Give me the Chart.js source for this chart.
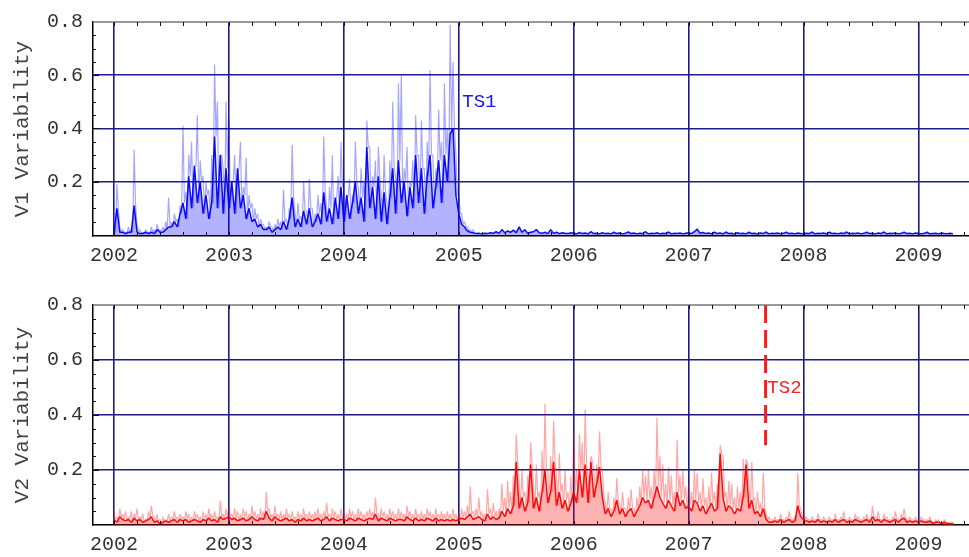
<!DOCTYPE html>
<html>
<head>
<meta charset="utf-8">
<script src="https://cdn.jsdelivr.net/npm/chart.js@4.4.0/dist/chart.umd.min.js"></script>
<style>
  html, body { margin: 0; padding: 0; background: #fff; }
  #wrap { position: relative; width: 969px; height: 557px; overflow: hidden; }
  .panel { position: absolute; left: 0; width: 969px; }
  #p1 { top: 0; height: 278px; }
  #p2 { top: 278px; height: 279px; }
</style>
</head>
<body>
<div id="wrap">
  <div class="panel" id="p1"><canvas id="c1"></canvas></div>
  <div class="panel" id="p2"><canvas id="c2"></canvas></div>
</div>
<script>
// samples start at 2002.0, 40 per year
const startYear = 2002;
const perYear = 40;

const yearTicks = [2002, 2003, 2004, 2005, 2006, 2007, 2008, 2009];
const valueTicks = [0.2, 0.4, 0.6, 0.8];

// V1: light spikes (only the active part) and the dense core
const v1Peaks = [
  0.02, 0.19, 0.03, 0.02, 0.01, 0.03, 0.02, 0.32, 0.04, 0.02,
  0.01, 0.02, 0.01, 0.03, 0.02, 0.04, 0.02, 0.03, 0.05, 0.14,
  0.05, 0.08, 0.06, 0.11, 0.41, 0.16, 0.30, 0.35, 0.26, 0.45,
  0.28, 0.22, 0.20, 0.17, 0.30, 0.64, 0.50, 0.30, 0.25, 0.50,
  0.43, 0.20, 0.30, 0.22, 0.35, 0.18, 0.29, 0.15, 0.12, 0.10,
  0.08, 0.06, 0.04, 0.03, 0.05, 0.03, 0.04, 0.06, 0.05, 0.17,
  0.06, 0.10, 0.34, 0.08, 0.12, 0.07, 0.20, 0.09, 0.21, 0.10,
  0.08, 0.15, 0.12, 0.37, 0.10, 0.18, 0.30, 0.12, 0.22, 0.35,
  0.20, 0.12, 0.21, 0.15, 0.35, 0.18, 0.25, 0.20, 0.43, 0.33,
  0.22, 0.28, 0.33, 0.15, 0.30, 0.12, 0.28, 0.50, 0.22, 0.57,
  0.60, 0.25, 0.33, 0.20, 0.28, 0.45, 0.30, 0.43, 0.25, 0.35,
  0.62, 0.30, 0.25, 0.47, 0.35, 0.57, 0.40, 0.79, 0.65, 0.30,
  0.15, 0.08, 0.05, 0.03, 0.02, 0.02
];

const v1Core = [
  0.01, 0.10, 0.01, 0.01, 0.005, 0.01, 0.01, 0.11, 0.01, 0.005,
  0.005, 0.01, 0.005, 0.01, 0.005, 0.02, 0.01, 0.01, 0.02, 0.03,
  0.03, 0.05, 0.03, 0.08, 0.12, 0.06, 0.22, 0.10, 0.26, 0.12,
  0.20, 0.08, 0.15, 0.06, 0.12, 0.37, 0.10, 0.30, 0.08, 0.25,
  0.10, 0.20, 0.08, 0.25, 0.10, 0.15, 0.06, 0.10, 0.05, 0.06,
  0.03, 0.04, 0.02, 0.02, 0.03, 0.01, 0.02, 0.03, 0.02, 0.05,
  0.02, 0.06, 0.14, 0.03, 0.06, 0.03, 0.09, 0.04, 0.10, 0.03,
  0.05, 0.08, 0.04, 0.16, 0.05, 0.10, 0.04, 0.14, 0.06, 0.18,
  0.05, 0.15, 0.06, 0.12, 0.20, 0.08, 0.14, 0.05, 0.33, 0.10,
  0.18, 0.06, 0.22, 0.05, 0.16, 0.04, 0.14, 0.25, 0.08, 0.28,
  0.12, 0.20, 0.07, 0.18, 0.10, 0.30, 0.12, 0.25, 0.08, 0.22,
  0.30, 0.10, 0.18, 0.28, 0.12, 0.30, 0.20, 0.38, 0.40, 0.15,
  0.08, 0.04, 0.03, 0.015, 0.01, 0.008, 0.005, 0.006, 0.004, 0.006,
  0.005, 0.008, 0.006, 0.012, 0.006, 0.02, 0.008, 0.015, 0.01, 0.018,
  0.008, 0.03, 0.01, 0.02, 0.006, 0.01, 0.012, 0.02, 0.008, 0.006,
  0.01, 0.005, 0.02, 0.006, 0.01, 0.005, 0.008, 0.006, 0.005, 0.008,
  0.006, 0.004, 0.009, 0.005, 0.007, 0.004, 0.012, 0.005, 0.006, 0.004,
  0.008, 0.005, 0.006, 0.004, 0.01, 0.005, 0.007, 0.004, 0.006, 0.011,
  0.005, 0.007, 0.004, 0.006, 0.005, 0.012, 0.004, 0.006, 0.005, 0.008,
  0.004, 0.006, 0.005, 0.011, 0.004, 0.006, 0.005, 0.007, 0.004, 0.006,
  0.008, 0.005, 0.012, 0.022, 0.006, 0.009, 0.005, 0.007, 0.004, 0.01,
  0.005, 0.007, 0.004, 0.011, 0.005, 0.006, 0.004, 0.008, 0.005, 0.006,
  0.004, 0.01, 0.005, 0.006, 0.004, 0.007, 0.005, 0.011, 0.004, 0.006,
  0.005, 0.007, 0.004, 0.006, 0.01, 0.005, 0.006, 0.004, 0.007, 0.005,
  0.004, 0.006, 0.005, 0.011, 0.004, 0.006, 0.005, 0.007, 0.004, 0.01,
  0.005, 0.006, 0.004, 0.007, 0.005, 0.011, 0.004, 0.006, 0.005, 0.007,
  0.004, 0.006, 0.01, 0.005, 0.006, 0.004, 0.007, 0.005, 0.011, 0.004,
  0.006, 0.005, 0.007, 0.004, 0.006, 0.01, 0.005, 0.006, 0.004, 0.007,
  0.005, 0.004, 0.006, 0.01, 0.004, 0.005, 0.006, 0.004, 0.007, 0.005, 0.004, 0.006, 0.004
];

// V2: light spikes and the dense core
const v2Peaks = [
  0.05, 0.03, 0.06, 0.04, 0.05, 0.03, 0.05, 0.04, 0.06, 0.03,
  0.04, 0.02, 0.05, 0.07, 0.03, 0.04, 0.02, 0.03, 0.02, 0.04,
  0.03, 0.05, 0.03, 0.04, 0.03, 0.05, 0.04, 0.03, 0.05, 0.04,
  0.03, 0.05, 0.04, 0.06, 0.04, 0.05, 0.03, 0.09, 0.04, 0.06,
  0.07, 0.04, 0.06, 0.05, 0.04, 0.06, 0.05, 0.04, 0.07, 0.05,
  0.04, 0.06, 0.05, 0.12, 0.06, 0.04, 0.07, 0.04, 0.05, 0.04,
  0.06, 0.04, 0.05, 0.03, 0.05, 0.04, 0.06, 0.04, 0.05, 0.04,
  0.05, 0.06, 0.04, 0.05, 0.08, 0.04, 0.06, 0.05, 0.04, 0.06,
  0.05, 0.04, 0.06, 0.05, 0.04, 0.06, 0.05, 0.04, 0.05, 0.06,
  0.05, 0.10, 0.04, 0.06, 0.05, 0.04, 0.06, 0.05, 0.04, 0.06,
  0.05, 0.04, 0.07, 0.05, 0.04, 0.06, 0.04, 0.05, 0.04, 0.06,
  0.05, 0.04, 0.06, 0.04, 0.05, 0.04, 0.05, 0.04, 0.06, 0.04,
  0.04, 0.06, 0.05, 0.07, 0.14, 0.05, 0.06, 0.10, 0.05, 0.04,
  0.13, 0.06, 0.08, 0.05, 0.06, 0.15, 0.10, 0.16, 0.12, 0.18,
  0.33, 0.15, 0.20, 0.12, 0.18, 0.30, 0.14, 0.22, 0.12, 0.27,
  0.44, 0.20, 0.25, 0.38, 0.18, 0.26, 0.15, 0.20, 0.12, 0.18,
  0.34, 0.20, 0.33, 0.30, 0.42, 0.18, 0.25, 0.20, 0.22, 0.34,
  0.20, 0.08, 0.12, 0.06, 0.10, 0.17, 0.08, 0.12, 0.06, 0.10,
  0.13, 0.06, 0.10, 0.14, 0.20, 0.18, 0.20, 0.14, 0.20, 0.39,
  0.25, 0.22, 0.15, 0.21, 0.18, 0.12, 0.31, 0.18, 0.20, 0.14,
  0.15, 0.12, 0.20, 0.19, 0.12, 0.17, 0.10, 0.14, 0.19, 0.12,
  0.15, 0.29, 0.25, 0.12, 0.16, 0.15, 0.10, 0.14, 0.12, 0.24,
  0.24, 0.15, 0.23, 0.10, 0.12, 0.08, 0.19, 0.04, 0.03, 0.02,
  0.03, 0.02, 0.04, 0.02, 0.03, 0.05, 0.02, 0.03, 0.19, 0.06,
  0.04, 0.03, 0.02, 0.03, 0.02, 0.04, 0.02, 0.03, 0.02, 0.03,
  0.02, 0.04, 0.02, 0.03, 0.05, 0.02, 0.03, 0.02, 0.04, 0.03,
  0.02, 0.03, 0.04, 0.02, 0.07, 0.03, 0.05, 0.02, 0.04, 0.03,
  0.02, 0.03, 0.05, 0.02, 0.04, 0.06, 0.02, 0.03, 0.02, 0.03,
  0.02, 0.03, 0.02, 0.02, 0.03, 0.01, 0.02, 0.02, 0.01, 0.02, 0.01, 0.01, 0.01
];

const v2Core = [
  0.02, 0.01, 0.03, 0.02, 0.015, 0.02, 0.01, 0.025, 0.015, 0.02,
  0.01, 0.015, 0.02, 0.03, 0.01, 0.015, 0.005, 0.01, 0.015, 0.01,
  0.015, 0.02, 0.01, 0.02, 0.015, 0.02, 0.01, 0.015, 0.02, 0.015,
  0.01, 0.02, 0.015, 0.025, 0.015, 0.02, 0.01, 0.03, 0.02, 0.025,
  0.03, 0.02, 0.025, 0.015, 0.02, 0.025, 0.015, 0.02, 0.03, 0.02,
  0.015, 0.025, 0.02, 0.05, 0.025, 0.015, 0.03, 0.02, 0.015, 0.02,
  0.025, 0.015, 0.02, 0.01, 0.02, 0.015, 0.025, 0.015, 0.02, 0.015,
  0.02, 0.025, 0.015, 0.02, 0.03, 0.015, 0.025, 0.02, 0.015, 0.02,
  0.02, 0.015, 0.025, 0.02, 0.015, 0.025, 0.02, 0.015, 0.02, 0.025,
  0.02, 0.04, 0.015, 0.025, 0.02, 0.015, 0.025, 0.02, 0.015, 0.02,
  0.02, 0.015, 0.03, 0.02, 0.015, 0.025, 0.015, 0.02, 0.015, 0.025,
  0.02, 0.015, 0.025, 0.015, 0.02, 0.015, 0.02, 0.015, 0.02, 0.015,
  0.02, 0.025, 0.02, 0.03, 0.04, 0.02, 0.025, 0.03, 0.02, 0.015,
  0.04, 0.02, 0.03, 0.02, 0.025, 0.05, 0.03, 0.06, 0.04, 0.07,
  0.23, 0.06, 0.10, 0.05, 0.08, 0.22, 0.06, 0.10, 0.05, 0.12,
  0.20, 0.08, 0.12, 0.23, 0.07, 0.12, 0.06, 0.09, 0.05, 0.08,
  0.12, 0.08, 0.20, 0.10, 0.22, 0.08, 0.23, 0.10, 0.15, 0.21,
  0.10, 0.04, 0.06, 0.03, 0.05, 0.09, 0.04, 0.06, 0.03, 0.05,
  0.06, 0.03, 0.05, 0.07, 0.10, 0.08, 0.09, 0.06, 0.10, 0.14,
  0.10, 0.08, 0.06, 0.09, 0.07, 0.05, 0.12, 0.07, 0.09, 0.06,
  0.07, 0.05, 0.09, 0.08, 0.05, 0.07, 0.04, 0.06, 0.08, 0.05,
  0.06, 0.26, 0.10, 0.05, 0.07, 0.06, 0.04, 0.06, 0.05, 0.10,
  0.22, 0.06, 0.09, 0.04, 0.05, 0.03, 0.06, 0.02, 0.01, 0.01,
  0.015, 0.01, 0.02, 0.01, 0.015, 0.02, 0.01, 0.015, 0.07, 0.03,
  0.02, 0.015, 0.01, 0.015, 0.01, 0.02, 0.01, 0.015, 0.01, 0.015,
  0.01, 0.02, 0.01, 0.015, 0.02, 0.01, 0.015, 0.01, 0.02, 0.015,
  0.01, 0.015, 0.02, 0.01, 0.03, 0.015, 0.02, 0.01, 0.02, 0.015,
  0.01, 0.015, 0.02, 0.01, 0.02, 0.025, 0.01, 0.015, 0.01, 0.015,
  0.01, 0.015, 0.01, 0.01, 0.015, 0.005, 0.01, 0.01, 0.005, 0.01, 0.005, 0.005, 0.005
];

// break marker in the lower panel
const ts2Year = 2007.67;
const ts2Span = [0.8, 0.29];

const NAVY = "#1b1b8c";
const MONO = "'Liberation Mono', 'DejaVu Sans Mono', monospace";

function toPoints(values) {
  return values.map((v, i) => ({ x: startYear + i / perYear, y: v }));
}

// light layer: every peak followed by the core value half a step later,
// so the peaks read as thin spikes rising out of the dense band
function spikePoints(peaks, core) {
  const pts = [];
  peaks.forEach((v, i) => {
    const x = startYear + i / perYear;
    pts.push({ x: x, y: v });
    pts.push({ x: x + 0.5 / perYear, y: core[i] });
  });
  return pts;
}

const framePlugin = {
  id: "frame",
  afterDatasetsDraw(chart) {
    const { ctx, chartArea: a, scales } = chart;
    const xs = scales.x, ys = scales.y;
    ctx.save();
    // top border
    ctx.strokeStyle = "#777";
    ctx.lineWidth = 1.5;
    ctx.beginPath();
    ctx.moveTo(a.left, a.top);
    ctx.lineTo(a.right, a.top);
    ctx.stroke();
    // minor ticks on top and bottom every 0.2 year
    ctx.strokeStyle = "#111";
    ctx.lineWidth = 1;
    for (let k = 0; k < 40; k++) {
      const yr = 2001.8 + k * 0.2;
      const px = Math.round(xs.getPixelForValue(yr)) + 0.5;
      if (px < a.left || px > a.right) continue;
      ctx.beginPath();
      ctx.moveTo(px, a.top);
      ctx.lineTo(px, a.top + 4);
      ctx.moveTo(px, a.bottom);
      ctx.lineTo(px, a.bottom - 4);
      ctx.stroke();
    }
    // minor ticks on left every 0.05
    for (let k = 1; k < 16; k++) {
      const py = Math.round(ys.getPixelForValue(k * 0.05)) + 0.5;
      const len = k % 4 === 0 ? 6 : 3;
      ctx.beginPath();
      ctx.moveTo(a.left, py);
      ctx.lineTo(a.left + len, py);
      ctx.stroke();
    }
    // text marker
    const m = chart.options.plugins.frame;
    if (m && m.label) {
      ctx.fillStyle = m.color;
      ctx.font = "19px " + MONO;
      ctx.textAlign = "left";
      ctx.textBaseline = "middle";
      ctx.fillText(m.label, xs.getPixelForValue(m.x), ys.getPixelForValue(m.y));
    }
    ctx.restore();
  }
};

function makeChart(id, title, datasets, topPad, axisHeight, yMin, marker) {
  return new Chart(document.getElementById(id), {
    type: "line",
    data: { datasets: datasets },
    options: {
      responsive: true,
      maintainAspectRatio: false,
      devicePixelRatio: 1,
      animation: false,
      events: [],
      layout: { padding: { top: topPad, right: 0, left: 0, bottom: 0 } },
      plugins: { legend: { display: false }, tooltip: { enabled: false }, frame: marker },
      elements: { point: { radius: 0 }, line: { tension: 0, borderJoinStyle: "bevel" } },
      scales: {
        x: {
          type: "linear",
          min: 2001.817,
          max: 2009.44,
          afterBuildTicks: (s) => { s.ticks = yearTicks.map((v) => ({ value: v })); },
          afterFit: (s) => { s.height = axisHeight; },
          grid: { color: NAVY, lineWidth: 1.6, drawTicks: false },
          border: { color: "#000", width: 1.5 },
          ticks: {
            padding: 8,
            color: "#333",
            font: { family: MONO, size: 20 },
            maxRotation: 0,
            callback: (v) => String(v)
          }
        },
        y: {
          min: yMin,
          max: 0.8,
          afterBuildTicks: (s) => { s.ticks = valueTicks.map((v) => ({ value: v })); },
          afterFit: (s) => { s.width = 93; },
          grid: {
            color: (c) => (c.tick && c.tick.value >= 0.8 ? "rgba(0,0,0,0)" : NAVY),
            lineWidth: 1.6,
            drawTicks: false
          },
          border: { color: "#000", width: 1.5 },
          ticks: {
            padding: 10,
            color: "#333",
            font: { family: MONO, size: 20 },
            callback: (v) => v.toFixed(1)
          },
          title: {
            display: true,
            text: title,
            color: "#444",
            font: { family: MONO, size: 21 },
            padding: { top: 10, bottom: 0 }
          }
        }
      }
    },
    plugins: [framePlugin]
  });
}

makeChart("c1", "V1 Variability", [
  {
    data: toPoints(v1Core), borderColor: "rgba(0,0,255,0.95)", borderWidth: 1.5,
    fill: "origin", backgroundColor: "rgba(0,0,255,0.3)", order: 0
  },
  {
    data: spikePoints(v1Peaks, v1Core), borderColor: "rgba(0,0,255,0.35)", borderWidth: 1.2,
    order: 1
  }
], 16, 42, -0.004, { label: "TS1", color: "#1515ff", x: 2005.03, y: 0.5 });

makeChart("c2", "V2 Variability", [
  {
    data: toPoints(v2Core), borderColor: "rgba(255,0,0,0.95)", borderWidth: 1.5,
    fill: "origin", backgroundColor: "rgba(255,0,0,0.3)", order: 0
  },
  {
    data: spikePoints(v2Peaks, v2Core), borderColor: "rgba(255,0,0,0.35)", borderWidth: 1.2,
    order: 1
  },
  {
    data: [{ x: ts2Year, y: ts2Span[0] }, { x: ts2Year, y: ts2Span[1] }],
    borderColor: "#ff1a1a", borderWidth: 3, borderDash: [18, 7], order: 0
  }
], 27, 32, 0, { label: "TS2", color: "#ff2020", x: 2007.685, y: 0.5 });
</script>
</body>
</html>
